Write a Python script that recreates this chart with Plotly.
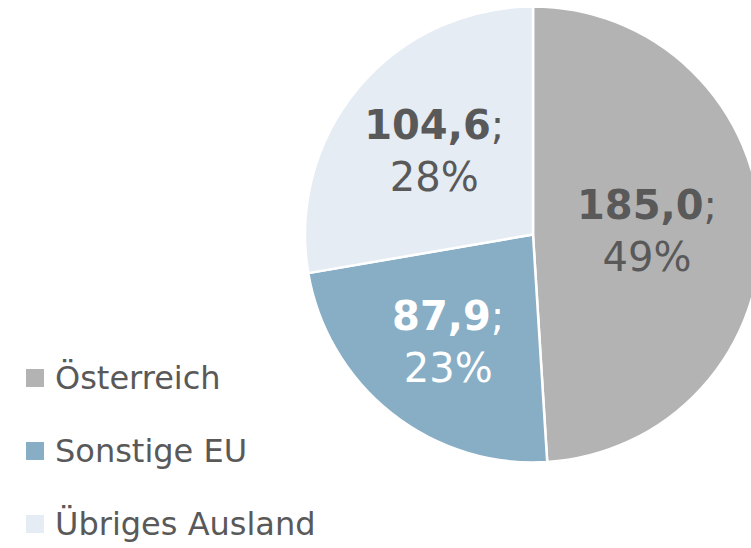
import plotly.graph_objects as go

labels = ["Österreich", "Sonstige EU", "Übriges Ausland"]
values = [185.0, 87.9, 104.6]
colors = ["#b3b3b3", "#87aec5", "#e5ecf4"]
text_colors = ["#595959", "#ffffff", "#595959"]

W, H = 762, 548
FONT = "DejaVu Sans"

fig = go.Figure(go.Pie(
    labels=labels,
    values=values,
    sort=False,
    direction="clockwise",
    rotation=0,
    marker=dict(colors=colors, line=dict(color="#ffffff", width=2.5)),
    texttemplate="<b>%{value:.1f}</b>;<br>%{percent:.0%}",
    textposition="inside",
    insidetextorientation="horizontal",
    insidetextfont=dict(family=FONT, size=40, color=text_colors),
    hoverinfo="none",
    showlegend=False,
    domain=dict(x=[305 / W, 761 / W], y=[(H - 463) / H, (H - 6) / H]),
))

# legend drawn as swatches + text
legend_y0 = 378
legend_step = 73
sq = 18
for i, (lab, col) in enumerate(zip(labels, colors)):
    yc = legend_y0 + i * legend_step
    fig.add_shape(type="rect", xref="paper", yref="paper",
                  x0=26 / W, x1=(26 + sq) / W,
                  y0=(H - yc - sq / 2) / H, y1=(H - yc + sq / 2) / H,
                  fillcolor=col, line=dict(width=0))
    fig.add_annotation(xref="paper", yref="paper", x=53 / W, y=(H - yc) / H,
                       xanchor="left", yanchor="middle", showarrow=False,
                       text=lab, font=dict(family=FONT, size=32, color="#595959"))

fig.update_layout(
    width=W, height=H,
    margin=dict(l=0, r=0, t=0, b=0),
    paper_bgcolor="#ffffff",
    plot_bgcolor="#ffffff",
    separators=", ",
)

fig.write_html("out.html", config={"displayModeBar": False},
               post_script="document.body.style.margin='0';document.body.style.overflow='hidden';")
